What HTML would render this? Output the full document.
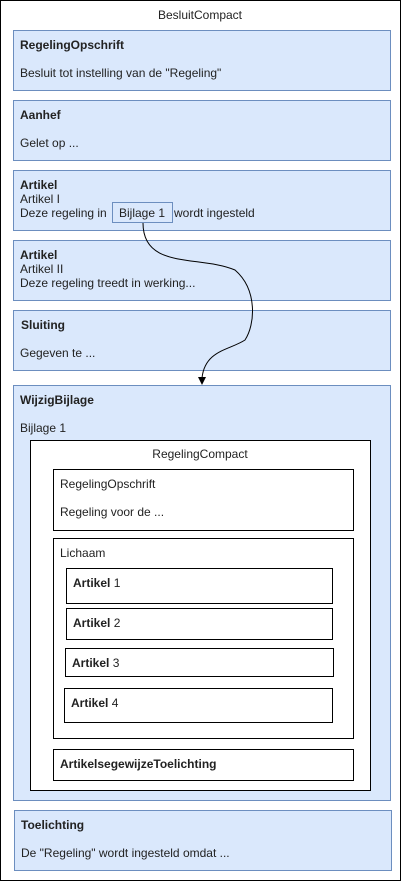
<!DOCTYPE html>
<html><head><meta charset="utf-8"><style>html,body{margin:0;padding:0;background:#fff}svg{display:block}text{font-family:"Liberation Sans",Arial,sans-serif;font-size:12px;fill:#222}.b{font-weight:bold}</style></head><body>
<svg width="401" height="881" viewBox="0 0 401 881" xmlns="http://www.w3.org/2000/svg">
<rect x="0.5" y="0.5" width="400" height="880" fill="#fff" stroke="#000"/>
<text x="200" y="19" text-anchor="middle">BesluitCompact</text>
<g fill="#dae8fc" stroke="#6c8ebf">
<rect x="13.5" y="30.5" width="377" height="60"/>
<rect x="13.5" y="100.5" width="377" height="60"/>
<rect x="13.5" y="170.5" width="377" height="60"/>
<rect x="13.5" y="240.5" width="377" height="60"/>
<rect x="13.5" y="310.5" width="377" height="60"/>
<rect x="13.5" y="385.5" width="377" height="415"/>
<rect x="14.5" y="810.5" width="377" height="60"/>
<rect x="112.5" y="202.5" width="60" height="20"/>
</g>
<text x="20" y="49" class="b">RegelingOpschrift</text>
<text x="20" y="77">Besluit tot instelling van de "Regeling"</text>
<text x="20" y="119" class="b">Aanhef</text>
<text x="20" y="147">Gelet op  ...</text>
<text x="20" y="189" class="b">Artikel</text>
<text x="20" y="203">Artikel I</text>
<text x="20" y="217">Deze regeling in</text>
<text x="119" y="217">Bijlage 1</text>
<text x="174" y="217">wordt ingesteld</text>
<text x="20" y="259" class="b">Artikel</text>
<text x="20" y="273">Artikel II</text>
<text x="20" y="287">Deze regeling treedt in werking...</text>
<text x="21" y="329" class="b">Sluiting</text>
<text x="20" y="357">Gegeven te ...</text>
<text x="20" y="404" class="b">WijzigBijlage</text>
<text x="20" y="432">Bijlage 1</text>
<text x="21" y="829" class="b">Toelichting</text>
<text x="21" y="857">De "Regeling" wordt ingesteld omdat ...</text>
<path d="M143 223 C143 270 200 255 235 270 C258 290 255 325 245 340 C230 350 205 350 202 378" fill="none" stroke="#000"/>
<path d="M198 377 L206 377 L202 385 Z" fill="#000"/>
<g fill="#fff" stroke="#000">
<rect x="30.5" y="440.5" width="340" height="350"/>
<rect x="53.5" y="469.5" width="300" height="61"/>
<rect x="53.5" y="538.5" width="300" height="200"/>
<rect x="66.5" y="568.5" width="266" height="35"/>
<rect x="66.5" y="608.5" width="266" height="31"/>
<rect x="65.5" y="648.5" width="268" height="28"/>
<rect x="64.5" y="688.5" width="268" height="34"/>
<rect x="53.5" y="749.5" width="300" height="31"/>
</g>
<text x="200" y="458" text-anchor="middle">RegelingCompact</text>
<text x="60" y="488">RegelingOpschrift</text>
<text x="60" y="516">Regeling voor de ...</text>
<text x="60" y="557">Lichaam</text>
<text x="73" y="587"><tspan class="b">Artikel</tspan> 1</text>
<text x="73" y="627"><tspan class="b">Artikel</tspan> 2</text>
<text x="72" y="667"><tspan class="b">Artikel</tspan> 3</text>
<text x="71" y="707"><tspan class="b">Artikel</tspan> 4</text>
<text x="60" y="768" class="b">ArtikelsegewijzeToelichting</text>
</svg>
</body></html>
